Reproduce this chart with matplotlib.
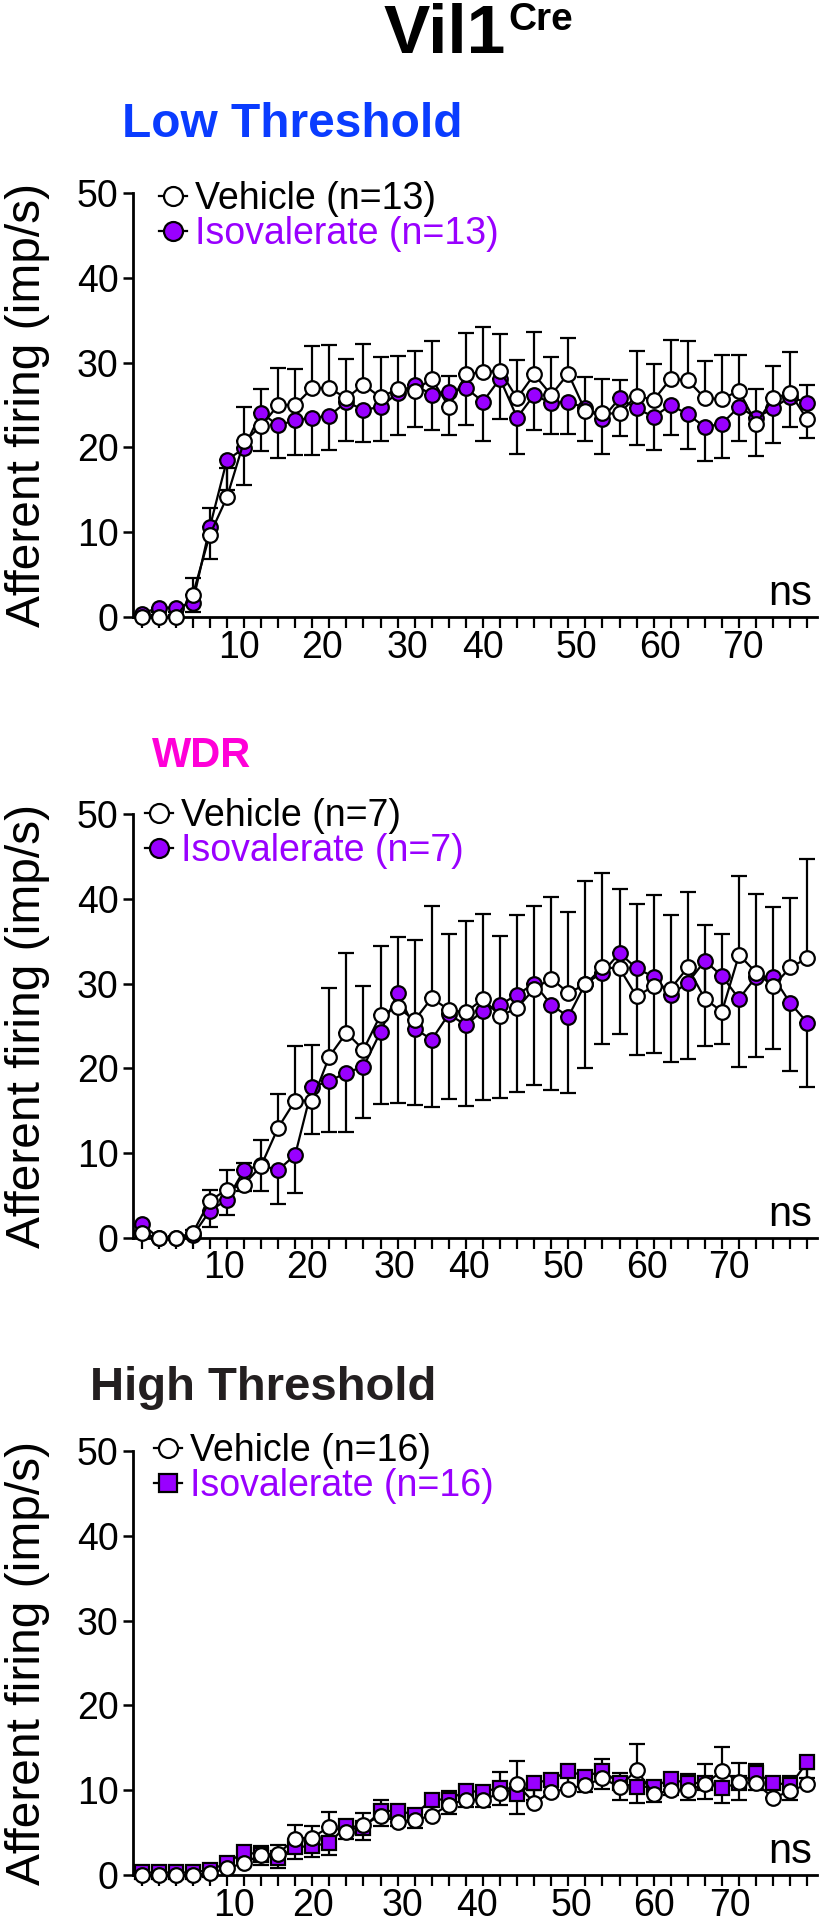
import numpy as np
import matplotlib
matplotlib.use('Agg')
import matplotlib.pyplot as plt
from matplotlib.lines import Line2D

plt.rcParams['font.family'] = ['Liberation Sans', 'DejaVu Sans']

# distension steps (40 bins, 2 units apart)
steps = list(range(0, 80, 2))
x_labels = ['10', '20', '30', '40', '50', '60', '70']

# ---- Low Threshold ----
lt_veh = [0.0, 0.0, 0.0, 2.6, 9.7, 14.1, 20.7, 22.5, 25.0, 25.0, 27.0, 27.0, 25.8, 27.4, 25.9, 26.9,
          26.7, 28.1, 24.8, 28.6, 28.9, 29.0, 25.8, 28.6, 26.2, 28.7, 24.3, 24.0, 24.0, 26.1, 25.6, 28.1,
          27.9, 25.8, 25.7, 26.7, 22.8, 25.8, 26.4, 23.3]
lt_veh_err = [0.3, 0.2, 0.2, 2.0, 3.1, 3.5, 4.1, 4.4, 4.4, 4.2, 4.9, 5.1, 4.6, 4.8, 4.8, 3.9,
              4.7, 4.4, 3.6, 4.9, 5.3, 4.4, 4.5, 5.0, 4.5, 4.2, 4.0, 4.1, 3.9, 5.3, 4.2, 4.6,
              4.6, 4.4, 5.2, 4.2, 4.1, 3.8, 4.8, 4.1]
lt_iso = [0.4, 1.1, 1.1, 1.7, 10.6, 18.5, 19.9, 24.1, 22.6, 23.2, 23.5, 23.7, 25.4, 24.4, 24.8, 26.4,
          27.4, 26.2, 26.5, 27.0, 25.4, 28.1, 23.5, 26.2, 25.2, 25.4, 24.6, 23.4, 25.8, 24.6, 23.6, 25.0,
          23.9, 22.4, 22.8, 24.8, 23.5, 24.6, 26.0, 25.2]
lt_iso_err = [0.3, 0.5, 0.5, 1.1, 3.8, 3.5, 4.3, 4.5, 3.9, 4.1, 4.4, 4.0, 4.6, 3.8, 4.1, 4.9,
              5.0, 4.1, 5.0, 4.3, 4.7, 4.7, 4.3, 4.2, 3.6, 3.8, 3.9, 4.2, 4.5, 4.3, 3.9, 3.5,
              4.1, 4.0, 4.0, 4.1, 4.5, 4.1, 3.6, 4.1]

# ---- WDR ----
wdr_veh = [0.55, 0.0, 0.0, 0.6, 4.4, 5.7, 6.3, 8.5, 13.0, 16.2, 16.2, 21.4, 24.2, 22.2, 26.3, 27.2,
           25.7, 28.3, 26.9, 26.6, 28.2, 26.2, 27.1, 29.4, 30.6, 28.9, 29.9, 31.9, 31.8, 28.5, 29.7, 29.4,
           31.9, 28.2, 26.7, 33.4, 31.3, 29.7, 31.9, 33.0]
wdr_veh_err = [0.3, 0.2, 0.2, 0.3, 1.3, 2.3, 2.5, 3.0, 4.0, 6.4, 6.6, 8.1, 9.4, 7.5, 8.1, 8.3,
               9.4, 10.9, 9.0, 10.8, 10.0, 9.4, 11.0, 9.8, 9.6, 9.6, 12.2, 11.1, 9.3, 10.9, 10.7, 8.7,
               8.9, 8.7, 9.2, 9.3, 9.3, 9.3, 8.2, 11.7]
wdr_iso = [1.7, 0.0, 0.0, 0.3, 3.2, 4.5, 8.0, 8.6, 8.0, 9.8, 17.8, 18.5, 19.5, 20.2, 24.3, 28.9,
           24.7, 23.4, 26.4, 25.1, 26.8, 27.5, 28.7, 30.0, 27.5, 26.1, 30.0, 31.3, 33.6, 31.8, 30.8, 28.7,
           30.1, 32.7, 30.9, 28.2, 30.8, 30.8, 27.7, 25.4]
wdr_iso_err = [0.3, 0.2, 0.2, 0.3, 1.9, 1.8, 2.5, 3.0, 4.0, 4.5, 5.5, 6.0, 7.0, 6.0, 8.5, 13.0,
               9.0, 8.0, 10.0, 9.5, 10.5, 11.0, 11.5, 12.0, 10.0, 9.0, 10.0, 8.4, 9.5, 10.2, 9.0, 8.0,
               9.0, 10.1, 8.0, 8.0, 9.4, 8.5, 8.0, 7.6]

# ---- High Threshold ----
ht_veh = [0.0, 0.0, 0.0, 0.0, 0.2, 0.8, 1.4, 2.4, 2.5, 4.3, 4.4, 5.7, 5.1, 5.9, 7.0, 6.3,
          6.5, 7.0, 8.3, 8.9, 8.8, 9.7, 10.7, 8.5, 9.8, 10.2, 10.6, 11.4, 10.4, 12.4, 9.5, 10.0,
          10.0, 10.7, 12.3, 11.0, 10.8, 9.1, 9.9, 10.7]
ht_veh_err = [0.2, 0.2, 0.2, 0.2, 0.2, 0.6, 0.8, 1.0, 1.0, 1.6, 1.4, 1.7, 1.2, 1.4, 1.9, 1.2,
              1.3, 1.5, 1.6, 1.5, 1.6, 2.4, 2.8, 1.5, 1.8, 1.6, 1.6, 2.3, 1.6, 3.1, 1.4, 1.5,
              1.9, 2.4, 2.8, 2.2, 2.3, 1.6, 1.8, 1.8]
ht_iso = [0.3, 0.3, 0.3, 0.3, 0.6, 1.4, 2.7, 2.4, 2.0, 3.3, 3.4, 3.8, 5.8, 5.6, 7.5, 7.6,
          7.1, 8.9, 8.9, 9.9, 9.8, 10.3, 9.5, 10.9, 11.2, 12.3, 11.6, 12.3, 10.8, 10.4, 10.4, 11.3,
          10.8, 10.9, 10.3, 10.8, 12.0, 10.9, 10.6, 13.3]
ht_iso_err = [0.3, 0.3, 0.3, 0.3, 0.4, 0.8, 1.0, 1.2, 1.2, 1.4, 1.3, 1.5, 1.6, 1.5, 1.7, 1.8,
              1.6, 1.8, 1.7, 1.9, 1.8, 2.0, 2.3, 2.0, 1.9, 2.0, 1.8, 2.1, 2.0, 1.9, 1.8, 1.9,
              2.0, 1.9, 1.8, 1.9, 2.0, 1.8, 1.7, 1.9]

PURPLE = '#9900ff'

panels = [
    dict(title='Low Threshold', tcolor='#0a3cff', tx=122, ty=137, tsize=34.5,
         veh=lt_veh, veh_err=lt_veh_err, iso=lt_iso, iso_err=lt_iso_err, n=13, iso_marker='o',
         y0=617, lab_pos=[11.4, 21.1, 31.2, 40.0, 51.0, 60.8, 70.5], leg=(159, 181)),
    dict(title='WDR', tcolor='#ff00d8', tx=152, ty=767, tsize=30,
         veh=wdr_veh, veh_err=wdr_veh_err, iso=wdr_iso, iso_err=wdr_iso_err, n=7, iso_marker='o',
         y0=1238, lab_pos=[9.7, 19.4, 29.6, 38.4, 49.4, 59.2, 68.8], leg=(145, 798)),
    dict(title='High Threshold', tcolor='#231f20', tx=90, ty=1400, tsize=34,
         veh=ht_veh, veh_err=ht_veh_err, iso=ht_iso, iso_err=ht_iso_err, n=16, iso_marker='s',
         y0=1875, lab_pos=[10.8, 20.1, 30.6, 39.3, 50.4, 60.0, 68.9], leg=(154, 1433)),
]

W, H = 823, 1920
fig = plt.figure(figsize=(W / 100, H / 100), dpi=100)

fig.text(384 / W, 1 - 53 / H, 'Vil1', fontsize=50, fontweight='bold', ha='left', va='baseline')
fig.text(508 / W, 1 - 30 / H, 'Cre', fontsize=28, fontweight='bold', ha='left', va='baseline')

x = np.array(steps)
for p in panels:
    ax = fig.add_axes([133 / W, 1 - p['y0'] / H, (816.7 - 133) / W, 424 / H])
    veh = np.array(p['veh'])
    iso = np.array(p['iso'])
    ve = np.array(p['veh_err'])
    ie = np.array(p['iso_err'])

    # error bars: vehicle upward, isovalerate downward
    ax.errorbar(x, iso, yerr=[ie, np.zeros_like(ie)], fmt='none', ecolor='black',
                elinewidth=1.6, capsize=6, capthick=1.6, zorder=2, clip_on=False)
    ax.errorbar(x, veh, yerr=[np.zeros_like(ve), ve], fmt='none', ecolor='black',
                elinewidth=1.6, capsize=6, capthick=1.6, zorder=2, clip_on=False)
    ms = 10.5 if p['iso_marker'] == 'o' else 10
    ax.plot(x, iso, color='black', lw=1.6, marker=p['iso_marker'], ms=ms, mfc=PURPLE,
            mec='black', mew=1.6, zorder=3, clip_on=False)
    ax.plot(x, veh, color='black', lw=1.6, marker='o', ms=10.5, mfc='white',
            mec='black', mew=1.6, zorder=4, clip_on=False)

    ax.set_xlim(-1.0, 79.1)
    ax.set_ylim(0, 50)
    for s in ['top', 'right']:
        ax.spines[s].set_visible(False)
    for s in ['left', 'bottom']:
        ax.spines[s].set_linewidth(2.0)

    ax.set_yticks([0, 10, 20, 30, 40, 50])
    ax.tick_params(axis='y', length=7, width=1.8, labelsize=27, pad=3.5)
    ax.xaxis.remove_overlapping_locs = False
    ax.set_xticks(x)
    ax.set_xticklabels([])
    ax.set_xticks(p['lab_pos'], x_labels, minor=True)
    ax.tick_params(axis='x', which='major', length=8, width=1.6)
    ax.tick_params(axis='x', which='minor', length=0, labelsize=27, pad=9)

    ax.set_ylabel('Afferent firing (imp/s)', fontsize=34.5)
    ax.yaxis.set_label_coords(-0.121, 0.5)

    ax.annotate('ns', xy=(1, 0), xycoords='axes fraction', xytext=(-3.5, 8.5),
                textcoords='offset points', ha='right', va='baseline', fontsize=30)

    fig.text(p['tx'] / W, 1 - p['ty'] / H, p['title'], fontsize=p['tsize'], fontweight='bold',
             color=p['tcolor'], ha='left', va='baseline')

    handles = [
        Line2D([], [], color='black', lw=1.6, marker='o', ms=10.5, mfc='white', mec='black', mew=1.6),
        Line2D([], [], color='black', lw=1.6, marker=p['iso_marker'], ms=ms, mfc=PURPLE, mec='black', mew=1.6),
    ]
    labels = ['Vehicle (n=%d)' % p['n'], 'Isovalerate (n=%d)' % p['n']]
    lx, ly = p['leg']
    ax.legend(handles, labels, loc='upper left', bbox_to_anchor=(lx / W, 1 - ly / H),
              bbox_transform=fig.transFigure, frameon=False, fontsize=27, borderpad=0,
              borderaxespad=0, handlelength=0.75, handletextpad=0.2, labelspacing=-0.03,
              markerscale=1.3, labelcolor=['black', PURPLE])

fig.savefig('out.png', dpi=100)
